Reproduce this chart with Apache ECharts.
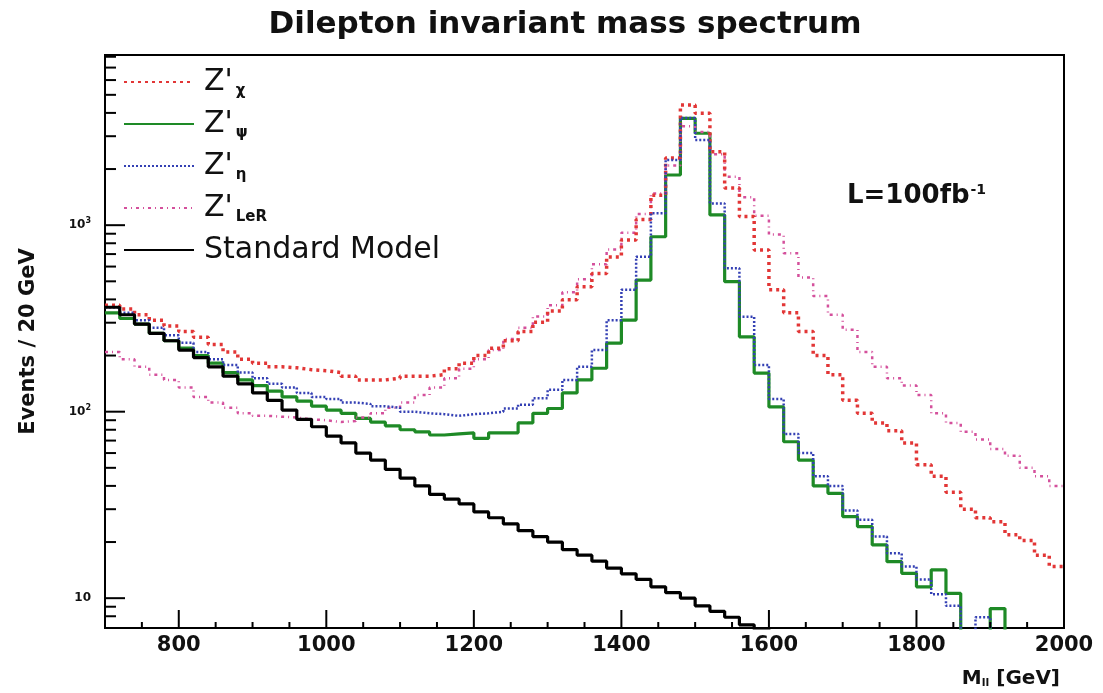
<!DOCTYPE html>
<html>
<head>
<meta charset="utf-8">
<script src="https://cdn.jsdelivr.net/npm/echarts@6.0.0/dist/echarts.min.js"></script>
<style>
html,body{margin:0;padding:0;background:#fff;}
#chart{width:1103px;height:693px;}
</style>
</head>
<body>
<div id="chart"></div>
<script>
// ---- data (events per 20 GeV bin, bins start at these masses) ----
const binEdges = [700,720,740,760,780,800,820,840,860,880,900,920,940,960,980,
  1000,1020,1040,1060,1080,1100,1120,1140,1160,1180,1200,1220,1240,1260,1280,
  1300,1320,1340,1360,1380,1400,1420,1440,1460,1480,1500,1520,1540,1560,1580,
  1600,1620,1640,1660,1680,1700,1720,1740,1760,1780,1800,1820,1840,1860,1880,
  1900,1920,1940,1960,1980];
const massMin = 700;
const massMax = 2000;

const zChi = [372,355,331,309,288, 269,251,229,209,191, 182,174,172,168,166,
  162,155,148,148,151, 155,155,158,170,182, 200,219,240,269,302,
  347,398,468,550,676, 832,1072,1445,2291,4406, 3981,2477,1585,1112,736,
  450,339,269,200,158, 115,98,87,79,68, 52,45,37,30,27, 25.7,21.9,20.4,17,14.8];

const zPsi = [339,316,295,263,240, 219,200,182,162,148, 138,129,120,114,107,
  102,98,92,88,84, 80,78,75,76,77, 72,77,77,87,98,
  104,126,148,171,233, 310,508,867,1858,3741, 3112,1135,498,252,161,
  106,69,55,40,36.5, 27.4,24.2,19.3,15.7,13.6, 11.5,14.2,10.6,1,1, 8.8,1,1,1,1];

const zEta = [363,339,309,282,257, 234,209,191,178,162, 151,141,135,126,120,
  117,112,110,107,105, 100,98,97,95,97, 98,100,104,109,118,
  131,148,174,214,309, 450,678,1159,2239,3758, 2864,1309,587,323,178,
  117,76,60,45,40, 29.5,26.3,21.4,17.4,14.8, 12.6,10.5,9.1,1,7.9, 1,1,1,1,1];

const zLeR = [209,191,174,158,148, 135,120,112,105,98, 95,94,93,91,90,
  88,89,93,98,105, 112,123,135,151,170, 191,214,245,282,324,
  372,437,513,617,741, 912,1148,1479,2089,3388, 3162,2399,1820,1413,1122,
  891,708,525,417,331, 275,209,174,151,138, 123,98,87,78,71, 63,58,50,45,40];

const standardModel = [363,331,295,263,240, 214,195,174,155,141, 126,115,102,91,83,
  74,68,60,55,49, 44,40,36,34,32, 29,27,25,23,21.4,
  20,18.2,17,15.8,14.5, 13.5,12.6,11.5,10.7,10, 9.1,8.5,7.9,7.2,6.8,
  6.3,5.9,5.5,5.1,4.8, 4.5,4.2,3.9,3.6,3.4, 3.2,3.0,2.8,2.6,2.4, 2.2,2.1,1.9,1.8,1.7];

const yMin = 6.92;
const yMax = 8176;
const xMajorTicks = [800,1000,1200,1400,1600,1800,2000];
const xMinorTicks = [750,850,900,950,1050,1100,1150,1250,1300,1350,1450,1500,1550,
  1650,1700,1750,1850,1900,1950];
const yMajorTicks = [10,100,1000];
const yMinorTicks = [8,9,20,30,40,50,60,70,80,90,200,300,400,500,600,700,800,900,
  2000,3000,4000,5000,6000,7000,8000];

const seriesNames = ["Z'χ","Z'ψ","Z'η","Z'LeR","Standard Model"];
const legendSub = {"Z'χ":"χ","Z'ψ":"ψ","Z'η":"η","Z'LeR":"LeR"};

// ---- build ----
function hist(vals){
  const d = binEdges.map((e,i)=>[e, vals[i]]);
  d.push([massMax, vals[vals.length-1]]);
  return d;
}
const tickData = [];
xMajorTicks.forEach(v=>tickData.push([v, yMin, 0, 1]));
xMinorTicks.forEach(v=>tickData.push([v, yMin, 0, 0]));
yMajorTicks.forEach(v=>tickData.push([massMin, v, 1, 1]));
yMinorTicks.forEach(v=>tickData.push([massMin, v, 1, 0]));

const FONT = 'DejaVu Sans';
function histSeries(name, vals, color, width, type, z){
  return {
    name: name, type: 'line', step: 'end', symbol: 'none', showSymbol: false,
    data: hist(vals), clip: true, z: z, animation: false,
    lineStyle: {color: color, width: width, type: type, cap: 'butt'},
    itemStyle: {color: color}
  };
}

const chart = echarts.init(document.getElementById('chart'), null, {renderer:'canvas'});
chart.setOption({
  backgroundColor: '#ffffff',
  animation: false,
  title: [
    {text: 'Dilepton invariant mass spectrum', left: 560, top: 4, textAlign: 'center',
     textStyle: {fontFamily: FONT, fontWeight: 'bold', fontSize: 31, color: '#111'}},
    {text: 'L=100fb{sup|-1}', left: 842, top: 178,
     textStyle: {fontFamily: FONT, fontWeight: 'bold', fontSize: 26, color: '#111',
       rich: {sup: {fontFamily: FONT, fontWeight: 'bold', fontSize: 14, verticalAlign: 'top', padding: [0,0,12,1]}}}}
  ],
  grid: {left: 105, right: 39, top: 55, bottom: 65, show: true, borderColor: '#000', borderWidth: 2, backgroundColor: 'transparent'},
  legend: {
    data: seriesNames, orient: 'vertical', left: 123, top: 65, padding: 0,
    itemWidth: 70, itemHeight: 14, itemGap: 8,
    itemStyle: {opacity: 0, borderWidth: 0},
    formatter: function(name){ const s = legendSub[name]; return s ? "Z'{sub|" + s + "}" : name; },
    textStyle: {fontFamily: FONT, fontSize: 30, color: '#111', lineHeight: 34, padding: [0,0,0,5],
      rich: {sub: {fontFamily: FONT, fontSize: 15, fontWeight: 'bold', color: '#111', padding: [18,0,0,3], lineHeight: 18}}}
  },
  xAxis: {
    type: 'value', min: massMin, max: massMax, interval: 100,
    axisLine: {show: true, lineStyle: {color: '#000', width: 2}},
    axisTick: {show: false}, splitLine: {show: false},
    axisLabel: {margin: 7, fontFamily: FONT, fontWeight: 'bold', fontSize: 21, color: '#111',
      formatter: v => (v % 200 === 0 ? String(v) : '')},
    name: 'M{sub|ll} [GeV]', nameLocation: 'end', nameGap: -4,
    nameTextStyle: {fontFamily: FONT, fontWeight: 'bold', fontSize: 20, color: '#111', align: 'right', verticalAlign: 'top', padding: [40,0,0,0],
      rich: {sub: {fontFamily: FONT, fontWeight: 'bold', fontSize: 11, padding: [10,0,0,0]}}}
  },
  yAxis: {
    type: 'log', logBase: 10, min: yMin, max: yMax,
    axisLine: {show: true, lineStyle: {color: '#000', width: 2}},
    axisTick: {show: false}, splitLine: {show: false}, minorTick: {show: false},
    axisLabel: {margin: 14, fontFamily: FONT, fontWeight: 'bold', fontSize: 12, color: '#111',
      formatter: function(v){
        const e = Math.log10(v); const r = Math.round(e);
        if (Math.abs(e - r) > 1e-6 || r < 1 || r > 3) return '';
        return r === 1 ? '10' : '10{sup|' + r + '}';
      },
      rich: {sup: {fontFamily: FONT, fontWeight: 'bold', fontSize: 8, verticalAlign: 'top', padding: [0,0,8,0]}}},
    name: 'Events / 20 GeV', nameLocation: 'middle', nameGap: 66, nameRotate: 90,
    nameTextStyle: {fontFamily: FONT, fontWeight: 'bold', fontSize: 21, color: '#111'}
  },
  series: [
    histSeries(seriesNames[3], zLeR, '#d4509c', 2.5, [3,4,1,4], 3),
    histSeries(seriesNames[0], zChi, '#e23636', 3.5, [3,4], 4),
    histSeries(seriesNames[1], zPsi, '#1e8a26', 3.2, 'solid', 2),
    histSeries(seriesNames[2], zEta, '#3440b4', 2.5, [2,2], 5),
    histSeries(seriesNames[4], standardModel, '#000000', 3.2, 'solid', 6),
    {
      type: 'custom', name: 'ticks', data: tickData, z: 10, silent: true,
      encode: {x: 0, y: 1},
      renderItem: function(params, api){
        const p = api.coord([api.value(0), api.value(1)]);
        const isY = api.value(2) === 1, major = api.value(3) === 1;
        const len = isY ? (major ? 20 : 11) : (major ? 18 : 6);
        const shape = isY ? {x1: p[0], y1: p[1], x2: p[0] + len, y2: p[1]}
                          : {x1: p[0], y1: p[1], x2: p[0], y2: p[1] - len};
        return {type: 'line', shape: shape, style: {stroke: '#000', lineWidth: 2}};
      }
    }
  ]
});
</script>
</body>
</html>
